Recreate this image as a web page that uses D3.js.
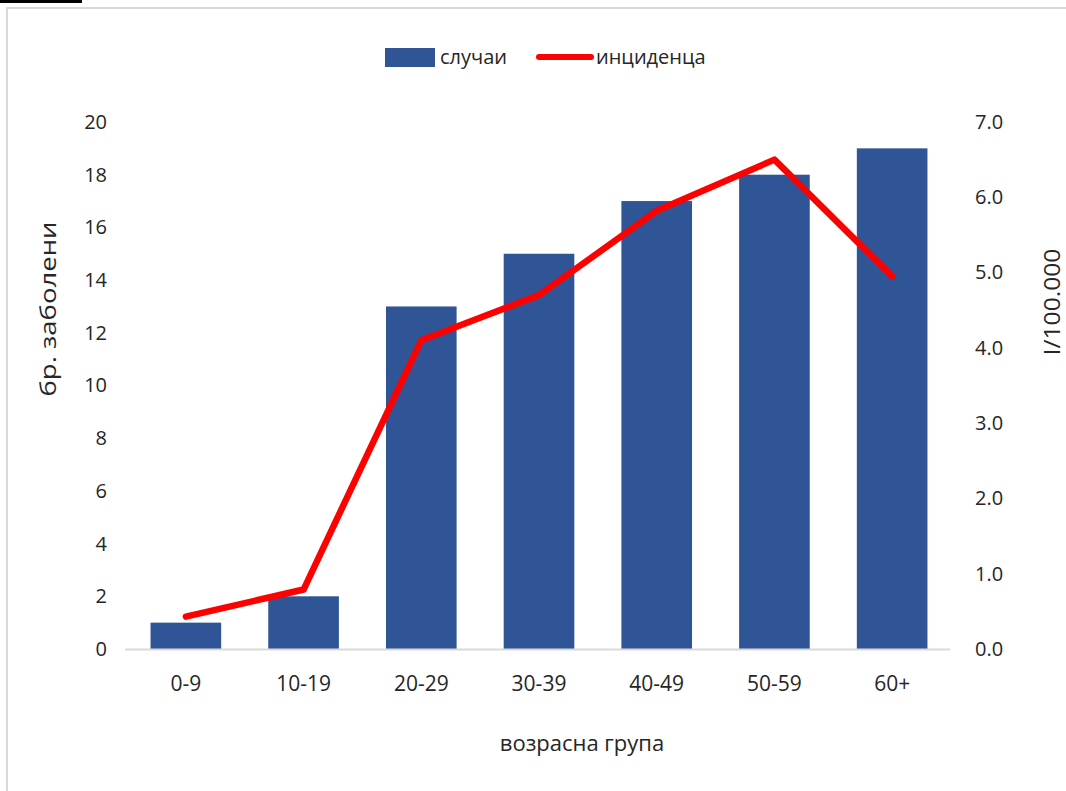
<!DOCTYPE html>
<html>
<head>
<meta charset="utf-8">
<script src="https://cdn.jsdelivr.net/npm/d3@7"></script>
<style>
  html, body { margin: 0; padding: 0; background: #fff; }
  svg { display: block; }
  text { font-family: "Open Sans", "Liberation Sans", sans-serif; fill: #262626; }
</style>
</head>
<body>
<svg id="chart" width="1066" height="791"></svg>
<script>
const categories = ["0-9", "10-19", "20-29", "30-39", "40-49", "50-59", "60+"];
const cases = [1, 2, 13, 15, 17, 18, 19];
const incidence = [0.43, 0.79, 4.1, 4.7, 5.82, 6.5, 4.95];
const leftTicks = [0, 2, 4, 6, 8, 10, 12, 14, 16, 18, 20];
const rightTicks = [0, 1, 2, 3, 4, 5, 6, 7];
const seriesNames = ["случаи", "инциденца"];
const axisTitles = { left: "бр. заболени", right: "I/100.000", bottom: "возрасна група" };

const svg = d3.select("#chart");
const W = 1066, H = 791;
const plot = { left: 127, right: 951, top: 122, bottom: 649 };

// frame decorations
svg.append("rect").attr("x", 0).attr("y", 0).attr("width", 82).attr("height", 3).attr("fill", "#000");
svg.append("line").attr("x1", 6).attr("x2", W).attr("y1", 8).attr("y2", 8)
  .attr("stroke", "#d9d9d9").attr("stroke-width", 2);
svg.append("line").attr("x1", 7).attr("x2", 7).attr("y1", 8).attr("y2", H)
  .attr("stroke", "#d9d9d9").attr("stroke-width", 2);

const x = d3.scaleBand().domain(categories).range([plot.left, plot.right])
  .paddingInner(0.4).paddingOuter(0.2);
const yL = d3.scaleLinear().domain([0, 20]).range([plot.bottom, plot.top]);
const yR = d3.scaleLinear().domain([0, 7]).range([plot.bottom, plot.top]);

// bars
svg.append("g").selectAll("rect").data(categories).join("rect")
  .attr("x", d => x(d))
  .attr("width", x.bandwidth())
  .attr("y", (d, i) => yL(cases[i]))
  .attr("height", (d, i) => yL(0) - yL(cases[i]))
  .attr("fill", "#2f5597");

// baseline axis
svg.append("line").attr("x1", 125).attr("x2", 950)
  .attr("y1", plot.bottom + 0.5).attr("y2", plot.bottom + 0.5)
  .attr("stroke", "#d9d9d9").attr("stroke-width", 2);

// line
const line = d3.line()
  .x((d, i) => x(categories[i]) + x.bandwidth() / 2)
  .y(d => yR(d));
svg.append("path").datum(incidence)
  .attr("d", line)
  .attr("fill", "none")
  .attr("stroke", "#ff0000")
  .attr("stroke-width", 6.5)
  .attr("stroke-linejoin", "round")
  .attr("stroke-linecap", "round");

// left axis
const axL = svg.append("g").attr("transform", `translate(${plot.left},0)`)
  .call(d3.axisLeft(yL).tickValues(leftTicks).tickSize(0).tickPadding(20).tickFormat(d3.format("d")));
axL.select(".domain").remove();
axL.selectAll("text").style("font-size", "20px").style("fill", "#262626")
  .style("font-family", "'Open Sans', sans-serif");

// right axis
const axR = svg.append("g").attr("transform", `translate(${plot.right},0)`)
  .call(d3.axisRight(yR).tickValues(rightTicks).tickSize(0).tickPadding(24).tickFormat(d3.format(".1f")));
axR.select(".domain").remove();
axR.selectAll("text").style("font-size", "20px").style("fill", "#262626")
  .style("font-family", "'Open Sans', sans-serif");

// bottom axis
const axB = svg.append("g").attr("transform", `translate(0,${plot.bottom})`)
  .call(d3.axisBottom(x).tickSize(0).tickPadding(27));
axB.select(".domain").remove();
axB.selectAll("text").style("font-size", "21px").style("fill", "#262626")
  .style("font-family", "'Open Sans', sans-serif");

// axis titles
svg.append("text").attr("transform", "translate(56,309) rotate(-90) scale(1.25,1)")
  .attr("text-anchor", "middle").style("font-size", "22px").text(axisTitles.left);
svg.append("text").attr("transform", "translate(1060,302) rotate(-90) scale(1.12,1)")
  .attr("text-anchor", "middle").style("font-size", "22px").text(axisTitles.right);
svg.append("text").attr("x", 582).attr("y", 751)
  .attr("text-anchor", "middle").style("font-size", "22px").text(axisTitles.bottom);

// legend
const lg = svg.append("g");
lg.append("rect").attr("x", 385).attr("y", 48).attr("width", 50).attr("height", 19).attr("fill", "#2f5597");
lg.append("text").attr("x", 440).attr("y", 64).style("font-size", "20px").text(seriesNames[0]);
lg.append("line").attr("x1", 539).attr("x2", 591).attr("y1", 57).attr("y2", 57)
  .attr("stroke", "#ff0000").attr("stroke-width", 6).attr("stroke-linecap", "round");
lg.append("text").attr("x", 596).attr("y", 64).style("font-size", "20px").text(seriesNames[1]);
</script>
</body>
</html>
